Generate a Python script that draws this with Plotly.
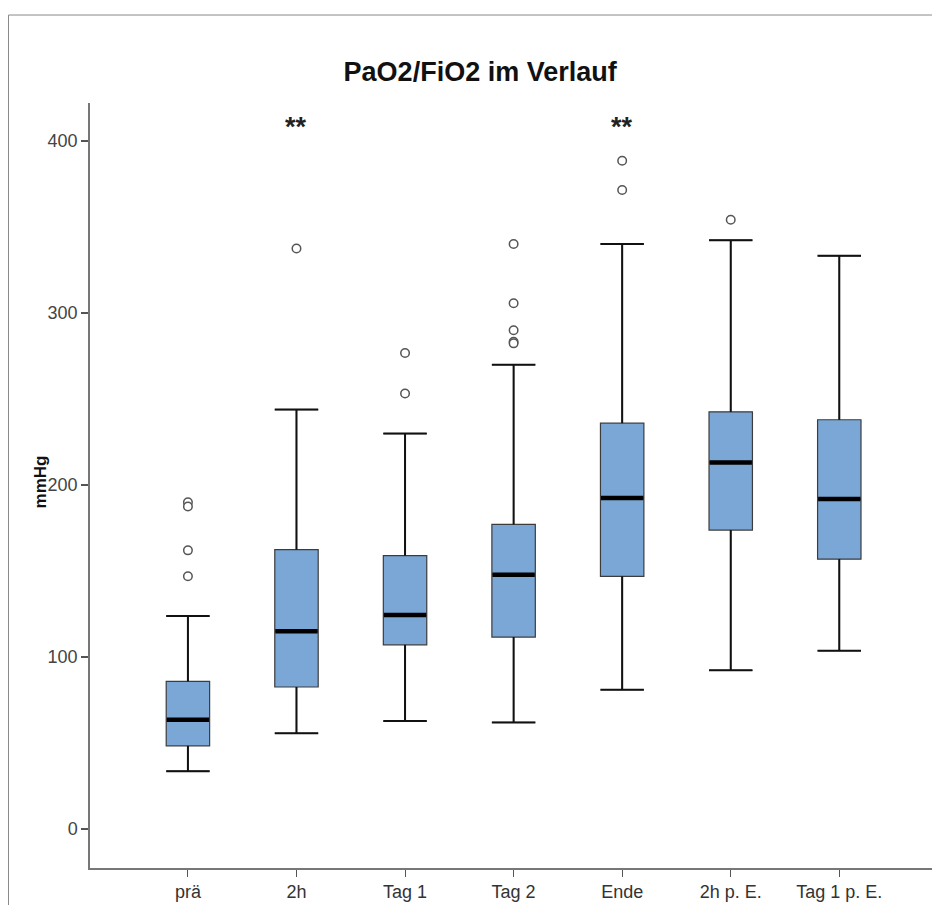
import plotly.graph_objects as go

categories = ["prä", "2h", "Tag 1", "Tag 2", "Ende", "2h p. E.", "Tag 1 p. E."]
lower_whisker = [33.7, 55.7, 62.8, 62.0, 81.0, 92.3, 103.7]
q1 = [48.4, 82.6, 107.1, 111.6, 146.9, 173.8, 156.9]
median = [63.5, 115.0, 124.4, 147.9, 192.4, 213.1, 191.8]
q3 = [85.9, 162.4, 158.9, 177.1, 235.9, 242.5, 237.9]
upper_whisker = [123.8, 243.8, 229.9, 269.9, 340.1, 342.3, 333.2]
outliers = [
    [190.0, 187.5, 162.0, 147.0],
    [337.4],
    [276.7, 253.2],
    [340.1, 305.6, 289.9, 283.2, 282.3],
    [388.4, 371.4],
    [354.1],
    [],
]
significance = ["", "**", "", "", "**", "", ""]
sig_y = 408
y_ticks = [0, 100, 200, 300, 400]

pos = list(range(len(categories)))
box_w = 0.40
fill = "#7aa7d6"
FONT = "Liberation Sans"

fig = go.Figure()

fig.add_trace(go.Box(
    x=pos, q1=q1, median=median, q3=q3,
    lowerfence=lower_whisker, upperfence=upper_whisker,
    width=box_w, whiskerwidth=1,
    fillcolor=fill, line=dict(color="#3c3c3c", width=1.2),
    boxpoints=False, showlegend=False, hoverinfo="skip",
))

# whiskers (stems + caps) and thick medians
wx, wy, mx, my = [], [], [], []
for i in pos:
    h = box_w / 2
    wx += [i, i, None, i - h, i + h, None]
    wy += [q3[i], upper_whisker[i], None, upper_whisker[i], upper_whisker[i], None]
    wx += [i, i, None, i - h, i + h, None]
    wy += [q1[i], lower_whisker[i], None, lower_whisker[i], lower_whisker[i], None]
    mx += [i - h + 0.005, i + h - 0.005, None]
    my += [median[i], median[i], None]

fig.add_trace(go.Scatter(x=wx, y=wy, mode="lines",
                         line=dict(color="#111111", width=2),
                         showlegend=False, hoverinfo="skip"))
fig.add_trace(go.Scatter(x=mx, y=my, mode="lines",
                         line=dict(color="#000000", width=4.5),
                         showlegend=False, hoverinfo="skip"))

ox, oy = [], []
for i, vals in enumerate(outliers):
    for v in vals:
        ox.append(i)
        oy.append(v)
fig.add_trace(go.Scatter(x=ox, y=oy, mode="markers",
                         marker=dict(symbol="circle", size=8.5, color="white",
                                     line=dict(color="#555555", width=1.5)),
                         showlegend=False, hoverinfo="skip"))

for i, s in enumerate(significance):
    if s:
        fig.add_annotation(x=i, y=sig_y, text="<b>" + s + "</b>", showarrow=False,
                           font=dict(size=27, color="#222222", family=FONT),
                           xanchor="center", yanchor="middle")

fig.add_annotation(xref="paper", yref="paper", x=-0.0585, y=0.505,
                   text="<b>mmHg</b>", textangle=-90, showarrow=False,
                   font=dict(size=17, color="#111111", family=FONT),
                   xanchor="center", yanchor="middle")

# outer frame (top and left edges)
fig.add_shape(type="line", xref="paper", yref="paper",
              x0=-0.0968, x1=1.0, y0=1.115, y1=1.115,
              line=dict(color="#8a8a8a", width=1))
fig.add_shape(type="line", xref="paper", yref="paper",
              x0=-0.0968, x1=-0.0968, y0=1.115, y1=-0.0484,
              line=dict(color="#8a8a8a", width=1))

fig.update_layout(
    width=924, height=897,
    margin=dict(l=82, r=0, t=95, b=37),
    paper_bgcolor="white", plot_bgcolor="white",
    title=dict(text="<b>PaO2/FiO2 im Verlauf</b>", x=0.511, xanchor="center",
               y=0.9287, yanchor="middle",
               font=dict(size=27, color="#111111", family=FONT)),
    font=dict(family=FONT, size=18, color="#444444"),
    xaxis=dict(range=[-0.902, 6.854], tickmode="array", tickvals=pos, ticktext=categories,
               showgrid=False, zeroline=False, showline=True, linecolor="#777777",
               linewidth=1.5, ticks="outside", ticklen=7, tickcolor="#555555",
               tickwidth=1.2, tickfont=dict(size=18, color="#333333")),
    yaxis=dict(range=[-22.6, 422], tickmode="array", tickvals=y_ticks,
               showgrid=False, zeroline=False, showline=True, linecolor="#777777",
               linewidth=1.5, ticks="outside", ticklen=7, tickcolor="#555555",
               tickwidth=1.5, tickfont=dict(size=18, color="#444444")),
)

fig.write_html("out.html")
